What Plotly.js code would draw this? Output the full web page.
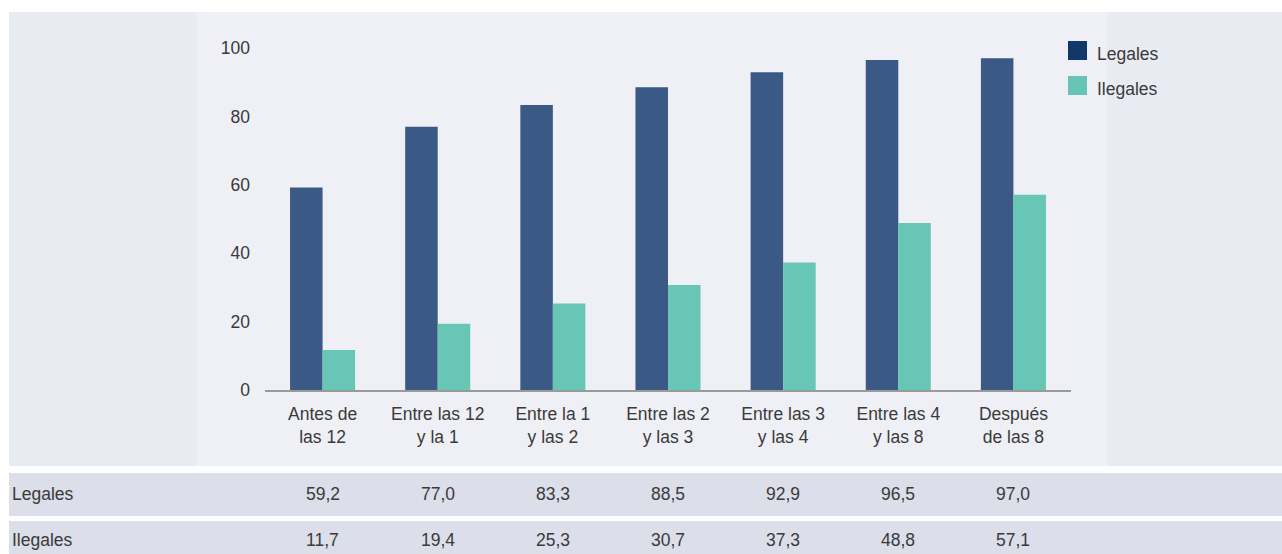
<!DOCTYPE html>
<html>
<head>
<meta charset="utf-8">
<script src="https://cdn.plot.ly/plotly-3.0.1.min.js"></script>
<style>html,body{margin:0;padding:0;background:#fff;}#chart{width:1282px;height:554px;}</style>
</head>
<body>
<div id="chart"></div>
<script>
const categories = ["Antes de<br>las 12", "Entre las 12<br>y la 1", "Entre la 1<br>y las 2", "Entre las 2<br>y las 3", "Entre las 3<br>y las 4", "Entre las 4<br>y las 8", "Después<br>de las 8"];
const legales = [59.2, 77.0, 83.3, 88.5, 92.9, 96.5, 97.0];
const ilegales = [11.7, 19.4, 25.3, 30.7, 37.3, 48.8, 57.1];
const seriesNames = ["Legales", "Ilegales"];
const yTicks = [0, 20, 40, 60, 80, 100];

const W = 1282, H = 554;
const L = 265, R = 1071, T = 48, B = 390;
const px = x => (x - L) / (R - L);
const py = y => (B - y) / (B - T);
const FONT = "Liberation Sans, Arial, sans-serif";
const FS = 17.5;
const TXT = "#3a3a3a";
const C_LEG = "#3a5a85", C_ILE = "#68c6b6";
const C_LEG_KEY = "#11376b", C_ILE_KEY = "#66c5b7";

const fmt = v => v.toFixed(1).replace(".", ",");

const traces = [
  {type: "bar", name: seriesNames[0], x: categories, y: legales, marker: {color: C_LEG}, hoverinfo: "skip"},
  {type: "bar", name: seriesNames[1], x: categories, y: ilegales, marker: {color: C_ILE}, hoverinfo: "skip"}
];

const shapes = [
  {type: "rect", xref: "paper", yref: "paper", x0: px(9), x1: px(1290), y0: py(466), y1: py(12), fillcolor: "#e9ebf3", line: {width: 0}, layer: "below"},
  {type: "rect", xref: "paper", yref: "paper", x0: px(197), x1: px(1107), y0: py(466), y1: py(12), fillcolor: "#eff0f5", line: {width: 0}, layer: "below"},
  {type: "rect", xref: "paper", yref: "paper", x0: px(9), x1: px(1290), y0: py(516), y1: py(473), fillcolor: "#dcdee9", line: {width: 0}, layer: "below"},
  {type: "rect", xref: "paper", yref: "paper", x0: px(9), x1: px(1290), y0: py(560), y1: py(521), fillcolor: "#dcdee9", line: {width: 0}, layer: "below"},
  {type: "rect", xref: "paper", yref: "paper", x0: px(1068), x1: px(1087), y0: py(60), y1: py(41), fillcolor: C_LEG_KEY, line: {width: 0}},
  {type: "rect", xref: "paper", yref: "paper", x0: px(1068), x1: px(1087), y0: py(95), y1: py(76), fillcolor: C_ILE_KEY, line: {width: 0}}
];

const tf = {family: FONT, size: FS, color: TXT};
const annotations = [
  {xref: "paper", yref: "paper", x: px(1095), y: py(54), text: seriesNames[0], showarrow: false, xanchor: "left", yanchor: "middle", font: tf},
  {xref: "paper", yref: "paper", x: px(1095), y: py(89), text: seriesNames[1], showarrow: false, xanchor: "left", yanchor: "middle", font: tf},
  {xref: "paper", yref: "paper", x: px(10), y: py(494), text: seriesNames[0], showarrow: false, xanchor: "left", yanchor: "middle", font: tf},
  {xref: "paper", yref: "paper", x: px(10), y: py(540), text: seriesNames[1], showarrow: false, xanchor: "left", yanchor: "middle", font: tf}
];
categories.forEach((c, i) => {
  annotations.push({xref: "x", yref: "paper", x: c, y: py(494), text: fmt(legales[i]), showarrow: false, xanchor: "center", yanchor: "middle", font: tf});
  annotations.push({xref: "x", yref: "paper", x: c, y: py(540), text: fmt(ilegales[i]), showarrow: false, xanchor: "center", yanchor: "middle", font: tf});
});

const layout = {
  width: W, height: H,
  margin: {l: L, r: W - R, t: T, b: H - B, pad: 0},
  paper_bgcolor: "#ffffff",
  plot_bgcolor: "rgba(0,0,0,0)",
  showlegend: false,
  barmode: "group",
  bargap: 0.435,
  bargroupgap: 0,
  font: tf,
  xaxis: {type: "category", range: [-0.5, 6.5], showgrid: false, zeroline: false, showline: true, linecolor: "#9a9a9a", linewidth: 2, ticks: "", ticklabelstandoff: 7, tickfont: tf, fixedrange: true},
  yaxis: {range: [0, 100], tickvals: yTicks, ticktext: yTicks.map(String), showgrid: false, zeroline: false, showline: false, ticks: "", ticklabelstandoff: 14, tickfont: tf, fixedrange: true},
  shapes: shapes,
  annotations: annotations
};

Plotly.newPlot("chart", traces, layout, {displayModeBar: false, staticPlot: true});
</script>
</body>
</html>
